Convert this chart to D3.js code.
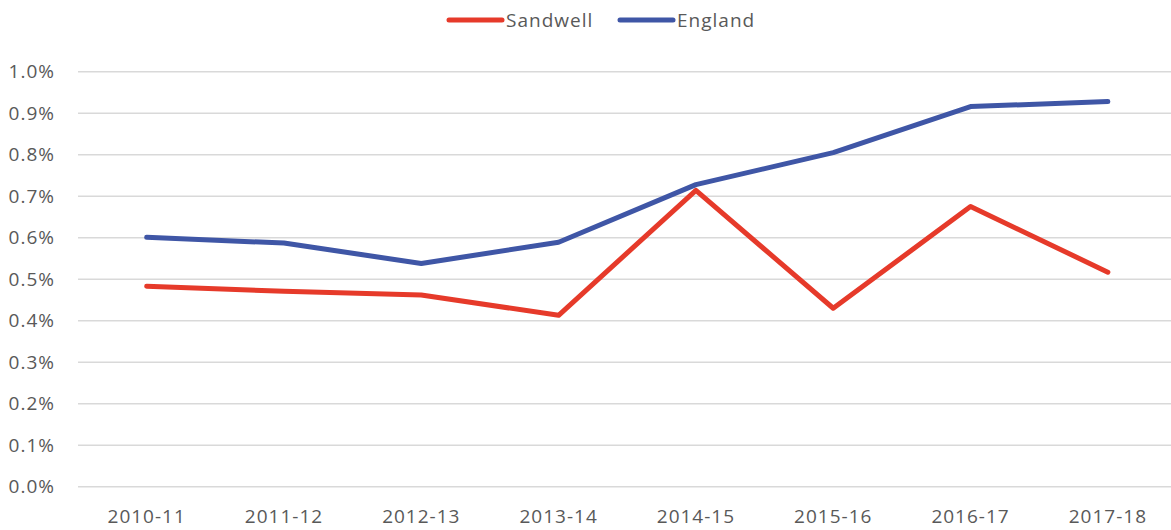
<!DOCTYPE html>
<html><head><meta charset="utf-8">
<script src="https://cdn.jsdelivr.net/npm/d3@7"></script>
<style>body{margin:0;background:#fff;}svg{display:block;}</style>
</head><body>
<svg id="c" width="1171" height="530"></svg>
<script>
const categories = ["2010-11","2011-12","2012-13","2013-14","2014-15","2015-16","2016-17","2017-18"];
const sandwell = [0.483,0.471,0.462,0.413,0.714,0.430,0.675,0.517];
const england = [0.601,0.587,0.538,0.589,0.728,0.805,0.916,0.928];
const yTicks = [0,0.1,0.2,0.3,0.4,0.5,0.6,0.7,0.8,0.9,1.0];
const seriesNames = ["Sandwell","England"];
const seriesColors = ["#E63A2A","#3F56A6"];

const svg = d3.select("#c");
const font = "'Open Sans', sans-serif";
const fs = 19, ls = 1;
const x = d3.scaleBand().domain(categories).range([78,1176.5]);
const y = d3.scaleLinear().domain([0,1]).range([486.7,71.7]);

const grid = svg.append("g");
grid.selectAll("line").data(yTicks).join("line")
  .attr("x1",78).attr("x2",1171)
  .attr("y1",d=>y(d)).attr("y2",d=>y(d))
  .attr("stroke","#d9d9d9").attr("stroke-width",1.5);

const yAxis = d3.axisLeft(y).tickValues(yTicks).tickFormat(d=>d.toFixed(1)+"%").tickSize(0).tickPadding(0);
const ya = svg.append("g").attr("transform","translate(55,0)").call(yAxis);
ya.select(".domain").remove();
ya.selectAll("text").attr("font-family",font).attr("font-size",fs).attr("letter-spacing",ls).attr("fill","#595959");

const xAxis = d3.axisBottom(x).tickSize(0).tickPadding(0);
const xa = svg.append("g").attr("transform","translate(0,516.5)").call(xAxis);
xa.select(".domain").remove();
xa.selectAll("text").attr("font-family",font).attr("font-size",fs).attr("letter-spacing",ls).attr("fill","#595959").attr("dy","0.35em");

const line = d3.line().x((d,i)=>x(categories[i])+x.bandwidth()/2).y(d=>y(d));
[sandwell,england].forEach((s,k)=>{
  svg.append("path").datum(s).attr("d",line)
    .attr("fill","none").attr("stroke",seriesColors[k]).attr("stroke-width",5)
    .attr("stroke-linejoin","round").attr("stroke-linecap","round");
});

const legX = [449,620];
seriesNames.forEach((n,k)=>{
  const g = svg.append("g");
  g.append("line").attr("x1",legX[k]).attr("x2",legX[k]+53).attr("y1",20).attr("y2",20)
    .attr("stroke",seriesColors[k]).attr("stroke-width",5).attr("stroke-linecap","round");
  g.append("text").attr("x",legX[k]+57).attr("y",20).attr("dy","0.35em")
    .attr("font-family",font).attr("font-size",fs).attr("letter-spacing",ls).attr("fill","#595959").text(n);
});
</script>
</body></html>
